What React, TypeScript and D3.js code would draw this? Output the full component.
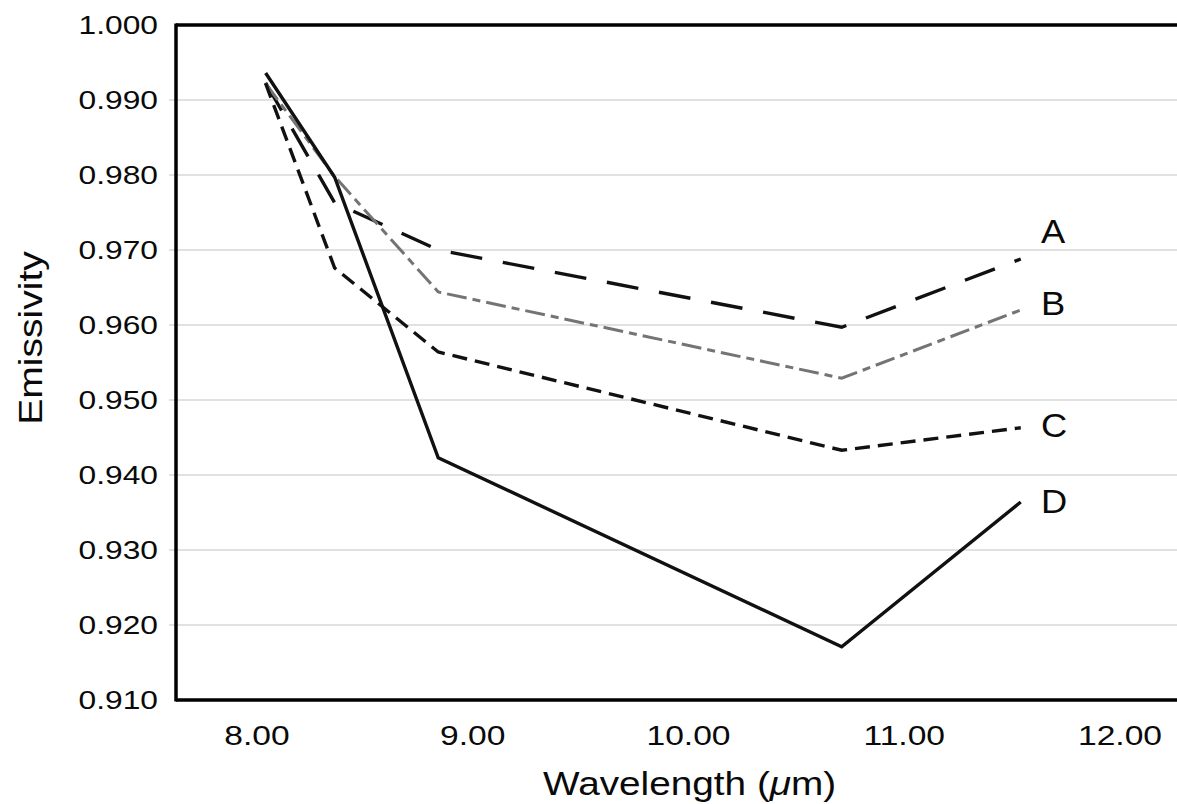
import React, { useRef, useEffect } from "react";
import * as d3 from "d3";

// wavelengths (µm) shared by every curve
const wavelengths = [8.04, 8.36, 8.84, 10.71, 11.54];

// emissivity of each curve
const seriesA = [0.9923, 0.9763, 0.97, 0.9597, 0.9688];
const seriesB = [0.9922, 0.9798, 0.9644, 0.9529, 0.962];
const seriesC = [0.9922, 0.9676, 0.9564, 0.9433, 0.9463];
const seriesD = [0.9936, 0.9797, 0.9423, 0.9171, 0.9364];

const seriesNames = ["A", "B", "C", "D"];
const yTicks = [0.91, 0.92, 0.93, 0.94, 0.95, 0.96, 0.97, 0.98, 0.99, 1.0];
const xTicks = [8, 9, 10, 11, 12];

const App = () => {
  const container = useRef<SVGSVGElement | null>(null);

  const width = 1177;
  const height = 804;
  const left = 176;
  const top = 25;
  const bottom = 700;

  useEffect(() => {
    const svg = d3.select(container.current);
    svg.selectAll("*").remove();

    const xScale = d3.scaleLinear().domain([8, 12]).range([257, 1120]);
    const yScale = d3.scaleLinear().domain([0.91, 1.0]).range([bottom, top]);

    const font = "'Liberation Sans', Arial, Helvetica, sans-serif";
    const ink = "#0a0a0a";

    // gridlines (with the little tick stubs left of the axis)
    svg
      .append("g")
      .selectAll("line")
      .data(yTicks.filter((d) => d > 0.91 && d < 1.0))
      .enter()
      .append("line")
      .attr("x1", left - 7)
      .attr("x2", width)
      .attr("y1", (d) => yScale(d))
      .attr("y2", (d) => yScale(d))
      .attr("stroke", "#c4c4c4")
      .attr("stroke-width", 1.2);

    // y tick labels
    svg
      .append("g")
      .selectAll("text")
      .data(yTicks)
      .enter()
      .append("text")
      .attr("transform", (d) => `translate(158, ${yScale(d)}) scale(1.27, 1)`)
      .attr("dy", "0.36em")
      .attr("text-anchor", "end")
      .style("font-family", font)
      .style("font-size", "25px")
      .style("fill", ink)
      .text((d) => d3.format(".3f")(d));

    // x tick labels
    svg
      .append("g")
      .selectAll("text")
      .data(xTicks)
      .enter()
      .append("text")
      .attr("transform", (d) => `translate(${xScale(d)}, 745) scale(1.2, 1)`)
      .attr("text-anchor", "middle")
      .style("font-family", font)
      .style("font-size", "28px")
      .style("fill", ink)
      .text((d) => d3.format(".2f")(d));

    // curves
    const allSeries = [seriesA, seriesB, seriesC, seriesD];
    const styles = [
      { color: "#111", dash: "32,21", w: 3.4 },
      { color: "#747474", dash: "20,6,8,6", w: 3 },
      { color: "#111", dash: "15,8", w: 3.4 },
      { color: "#111", dash: null, w: 3.4 },
    ];

    const line = d3
      .line<number>()
      .x((d, i) => xScale(wavelengths[i]))
      .y((d) => yScale(d));

    allSeries.forEach((s, k) => {
      svg
        .append("path")
        .datum(s)
        .attr("d", line)
        .attr("fill", "none")
        .attr("stroke", styles[k].color)
        .attr("stroke-width", styles[k].w)
        .attr("stroke-dasharray", styles[k].dash)
        .attr("stroke-linejoin", "miter");
    });

    // series labels at the right end
    const labelY = [243, 315, 437, 513];
    svg
      .append("g")
      .selectAll("text")
      .data(seriesNames)
      .enter()
      .append("text")
      .attr("transform", (d, i) => `translate(1041, ${labelY[i]}) scale(1.1, 1)`)
      .style("font-family", font)
      .style("font-size", "33px")
      .style("fill", ink)
      .text((d) => d);

    // frame: left axis, bottom axis, top border
    svg
      .append("line")
      .attr("x1", left)
      .attr("x2", left)
      .attr("y1", top - 1.5)
      .attr("y2", bottom + 1.5)
      .attr("stroke", "#000")
      .attr("stroke-width", 3.5);
    svg
      .append("line")
      .attr("x1", left)
      .attr("x2", width)
      .attr("y1", bottom)
      .attr("y2", bottom)
      .attr("stroke", "#000")
      .attr("stroke-width", 3.5);
    svg
      .append("line")
      .attr("x1", left)
      .attr("x2", width)
      .attr("y1", top)
      .attr("y2", top)
      .attr("stroke", "#000")
      .attr("stroke-width", 3.5);

    // axis titles
    const xTitle = svg
      .append("text")
      .attr("transform", "translate(543, 795) scale(1.14, 1)")
      .style("font-family", font)
      .style("font-size", "34px")
      .style("fill", ink);
    xTitle.append("tspan").text("Wavelength (");
    xTitle.append("tspan").style("font-style", "italic").text("μ");
    xTitle.append("tspan").text("m)");

    svg
      .append("text")
      .attr("transform", "translate(42, 338) rotate(-90) scale(1.15, 1)")
      .attr("text-anchor", "middle")
      .style("font-family", font)
      .style("font-size", "34px")
      .style("fill", ink)
      .text("Emissivity");
  }, []);

  return (
    <div style={{ position: "absolute", left: 0, top: 0, width: width, height: height, background: "#fff" }}>
      <svg ref={container} width={width} height={height} style={{ display: "block" }} />
    </div>
  );
};

export default App;
